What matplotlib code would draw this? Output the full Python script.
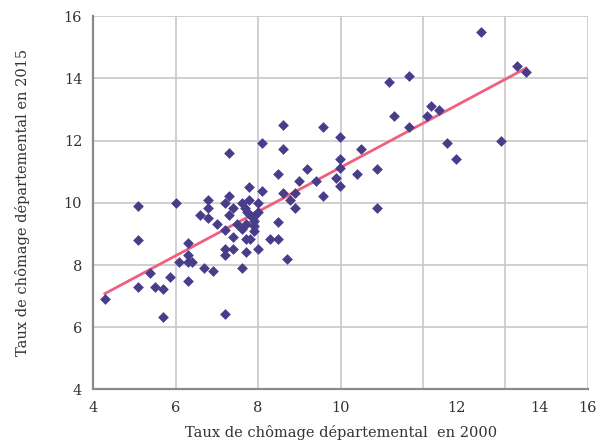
import numpy as np
import matplotlib
matplotlib.use("Agg")
import matplotlib.pyplot as plt
from matplotlib.transforms import ScaledTranslation

# Unemployment rate by department: 2000 (x) vs 2015 (y)
taux_2000 = [4.28, 5.09, 5.09, 5.09, 5.38, 5.50, 5.70, 5.70, 5.87, 6.00,
             6.08, 6.29, 6.29, 6.29, 6.40, 6.29, 6.59, 6.69, 6.79, 6.79,
             6.79, 6.91, 6.99, 7.20, 7.28, 7.29, 7.40, 7.28, 7.20, 7.40,
             7.20, 7.40, 7.20, 7.20, 7.48, 7.60, 7.68, 7.72, 7.78, 7.78,
             7.80, 7.70, 7.60, 7.70, 7.80, 7.70, 7.60, 7.99, 7.99, 7.91,
             7.91, 7.91, 7.91, 7.99, 8.10, 8.10, 8.29, 8.49, 8.49, 8.49,
             8.60, 8.60, 8.60, 8.69, 8.78, 8.90, 8.90, 8.99, 9.19, 9.40,
             9.58, 9.58, 9.89, 9.99, 9.99, 9.99, 9.99, 10.39, 10.50, 10.89,
             10.89, 11.18, 11.30, 11.67, 11.67, 12.09, 12.20, 12.38, 12.58, 12.79,
             13.41, 13.90, 14.28, 14.50]
taux_2015 = [6.92, 9.91, 8.81, 7.31, 7.74, 7.31, 7.23, 6.33, 7.62, 10.01,
             8.11, 8.70, 8.32, 8.11, 8.11, 7.50, 9.60, 7.92, 10.09, 9.83,
             9.50, 7.82, 9.32, 10.01, 10.22, 11.60, 9.83, 9.61, 9.13, 8.89,
             8.51, 8.51, 8.32, 6.42, 9.32, 10.01, 9.83, 9.72, 10.09, 10.52,
             9.61, 9.32, 9.15, 8.83, 8.83, 8.43, 7.92, 10.01, 9.72, 9.58,
             9.43, 9.26, 9.11, 8.51, 10.39, 11.92, 8.83, 8.83, 9.40, 10.92,
             10.33, 12.50, 11.73, 8.19, 10.09, 10.32, 9.83, 10.71, 11.09, 10.71,
             12.43, 10.22, 10.79, 12.13, 11.41, 11.11, 10.53, 10.92, 11.72, 11.09,
             9.83, 13.90, 12.80, 14.09, 12.43, 12.80, 13.12, 13.00, 11.92, 11.41,
             15.49, 12.00, 14.40, 14.21]

x_ticks = [4, 6, 8, 10, 12, 14, 16]
x_tick_labels = ["4", "6", "8", "10", "12", "14", "16"]
y_ticks = [4, 6, 8, 10, 12, 14, 16]

x = np.array(taux_2000)
y = np.array(taux_2015)

serif = ["DejaVu Serif"]
fig = plt.figure(figsize=(6.12, 4.43), dpi=100)
ax = fig.add_axes([0.1525, 0.1208, 0.8081, 0.8424])

ax.set_xlim(4, 16)
ax.set_ylim(4, 16)
ax.set_xticks(x_ticks)
ax.set_xticklabels(x_tick_labels)
ax.set_yticks(y_ticks)
ax.grid(True, color="#c8c8c8", linewidth=1.2)
ax.set_axisbelow(True)
for s in ["top", "right"]:
    ax.spines[s].set_visible(False)
for s in ["left", "bottom"]:
    ax.spines[s].set_color("#8a8a8a")
    ax.spines[s].set_linewidth(1.6)
ax.tick_params(axis="both", length=0, labelsize=10.5, labelcolor="#333333", pad=8)
for lab in ax.get_xticklabels() + ax.get_yticklabels():
    lab.set_fontfamily(serif)

# shifted labels 12 and 14 as in the reference
for lab in ax.get_xticklabels():
    if lab.get_text() in ("12", "14"):
        lab.set_transform(lab.get_transform() + ScaledTranslation(0.335, 0, fig.dpi_scale_trans))

# trend line (least squares)
slope, intercept = np.polyfit(x, y, 1)
xl = np.array([x.min(), x.max()])
ax.plot(xl, slope * xl + intercept, color="#f0607e", linewidth=2.0, zorder=2)

ax.scatter(x, y, marker="D", s=30, color="#483d8b", zorder=3, linewidths=0)

ax.set_xlabel("Taux de chômage départemental  en 2000", fontsize=10.5,
              family=serif, color="#333333")
ax.set_ylabel("Taux de chômage départemental en 2015", fontsize=10.5,
              family=serif, color="#333333")
ax.xaxis.set_label_coords(0.5, -0.114)
ax.yaxis.set_label_coords(-0.144, 0.5)
ax.xaxis.label.set_va("center")
ax.yaxis.label.set_va("center")

fig.savefig("out.png", dpi=100)
